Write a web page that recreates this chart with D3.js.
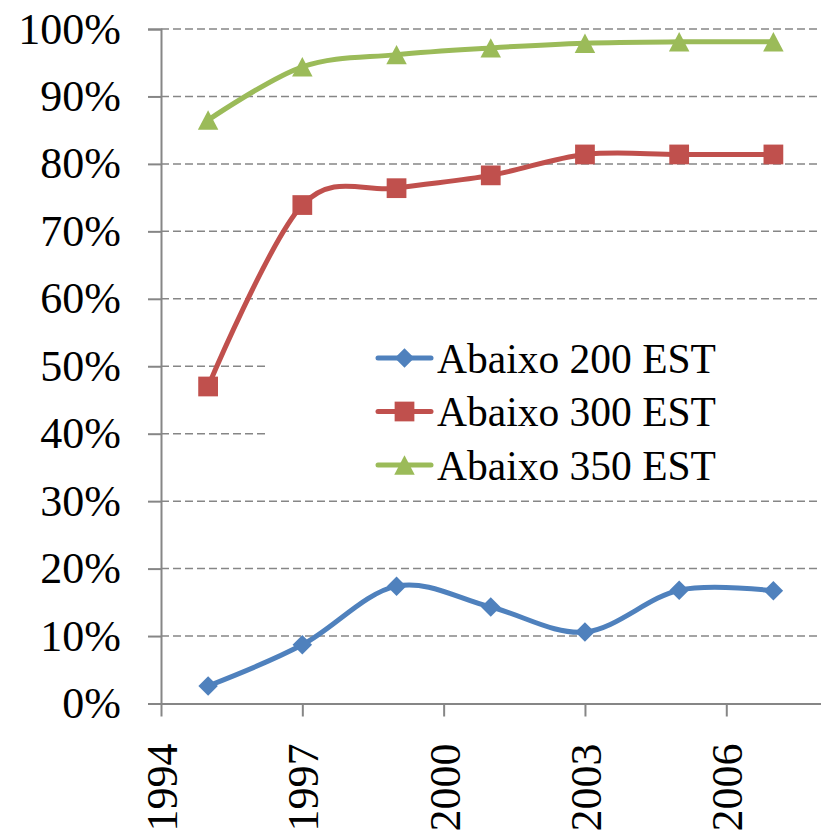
<!DOCTYPE html>
<html>
<head>
<meta charset="utf-8">
<script src="https://cdn.jsdelivr.net/npm/d3@7/dist/d3.min.js"></script>
<style>
  html, body { margin: 0; padding: 0; background: #fff; }
  svg { display: block; }
</style>
</head>
<body>
<svg id="chart" width="821" height="834"></svg>
<script>
// Share of records below each threshold, by year
const years = [1995, 1997, 1999, 2001, 2003, 2005, 2007];
const below200 = [0.026, 0.087, 0.174, 0.143, 0.106, 0.168, 0.167];
const below300 = [0.470, 0.739, 0.764, 0.783, 0.814, 0.814, 0.814];
const below350 = [0.865, 0.944, 0.962, 0.972, 0.979, 0.981, 0.981];

const seriesNames = ["Abaixo 200 EST", "Abaixo 300 EST", "Abaixo 350 EST"];
const seriesColors = ["#4F81BD", "#C0504D", "#9BBB59"];
const seriesMarkers = ["diamond", "square", "triangle"];

const xTicks = [1994, 1997, 2000, 2003, 2006];
const yTicks = [0, 0.1, 0.2, 0.3, 0.4, 0.5, 0.6, 0.7, 0.8, 0.9, 1.0];

const FONT = "'Liberation Serif', 'Times New Roman', serif";

const series = [below200, below300, below350].map((vals, i) => ({
  name: seriesNames[i],
  color: seriesColors[i],
  marker: seriesMarkers[i],
  points: years.map((yr, j) => ({ year: yr, value: vals[j] }))
}));

const svg = d3.select("#chart");
const plot = { left: 161, right: 820.5, top: 29, bottom: 703.5 };

const x = d3.scaleLinear().domain([1994, 2008]).range([plot.left, plot.right]);
const y = d3.scaleLinear().domain([0, 1]).range([plot.bottom, plot.top]);

const axisColor = "#868686";

// Dashed horizontal gridlines
svg.append("g")
  .selectAll("line")
  .data(yTicks.filter(d => d > 0))
  .join("line")
  .attr("x1", plot.left).attr("x2", plot.right)
  .attr("y1", d => y(d)).attr("y2", d => y(d))
  .attr("stroke", axisColor)
  .attr("stroke-width", 1.5)
  .attr("stroke-dasharray", "8,4");

// Y axis
const yAxis = svg.append("g")
  .attr("transform", `translate(${plot.left},0)`)
  .call(d3.axisLeft(y).tickValues(yTicks).tickFormat(d3.format(".0%")).tickSize(13).tickPadding(27));
yAxis.attr("font-family", null);
yAxis.select(".domain").attr("stroke", axisColor).attr("stroke-width", 2);
yAxis.selectAll(".tick line").attr("stroke", axisColor).attr("stroke-width", 2);
yAxis.selectAll(".tick text")
  .style("font-family", FONT)
  .style("font-size", "44px")
  .attr("fill", "#000");

// X axis
const xAxis = svg.append("g")
  .attr("transform", `translate(0,${plot.bottom})`)
  .call(d3.axisBottom(x).tickValues(xTicks).tickFormat(d3.format("d")).tickSize(13).tickSizeOuter(0));
xAxis.attr("font-family", null);
xAxis.select(".domain").attr("stroke", axisColor).attr("stroke-width", 2);
xAxis.selectAll(".tick line").attr("stroke", axisColor).attr("stroke-width", 2);
xAxis.selectAll(".tick text")
  .style("font-family", FONT)
  .style("font-size", "44px")
  .attr("fill", "#000")
  .attr("text-anchor", "end")
  .attr("transform", "rotate(-90)")
  .attr("x", -40)
  .attr("y", 0)
  .attr("dy", "0.35em");

// Legend panel sits above the gridlines
const legend = { x: 268, y: 306, rowStart: 358, rowGap: 53.5 };
svg.append("rect")
  .attr("x", legend.x).attr("y", legend.y)
  .attr("width", 821 - legend.x).attr("height", 188)
  .attr("fill", "#fff");

// Marker shapes, centred on their bounding box
const diamondType = {
  draw(ctx, size) {
    const w = Math.sqrt(size) / 2;
    const h = w * 1.0;
    ctx.moveTo(0, -h); ctx.lineTo(w, 0); ctx.lineTo(0, h); ctx.lineTo(-w, 0); ctx.closePath();
  }
};
const triangleType = {
  draw(ctx, size) {
    const w = Math.sqrt(size) / 2;
    const h = w * 0.95;
    ctx.moveTo(0, -h); ctx.lineTo(w, h); ctx.lineTo(-w, h); ctx.closePath();
  }
};
const markerSymbol = {
  diamond: d3.symbol().type(diamondType).size(380),
  square: d3.symbol().type(d3.symbolSquare).size(390),
  triangle: d3.symbol().type(triangleType).size(420)
};

const line = d3.line()
  .x(d => x(d.year))
  .y(d => y(d.value))
  .curve(d3.curveCardinal.tension(0));

series.forEach(s => {
  const g = svg.append("g");
  g.append("path")
    .datum(s.points)
    .attr("d", line)
    .attr("fill", "none")
    .attr("stroke", s.color)
    .attr("stroke-width", 5)
    .attr("stroke-linecap", "round")
    .attr("stroke-linejoin", "round");
  g.selectAll("path.marker")
    .data(s.points)
    .join("path")
    .attr("class", "marker")
    .attr("d", markerSymbol[s.marker])
    .attr("transform", d => `translate(${x(d.year)},${y(d.value)})`)
    .attr("fill", s.color);
});

// Legend entries
series.forEach((s, i) => {
  const cy = legend.rowStart + i * legend.rowGap;
  const row = svg.append("g").attr("transform", `translate(0,${cy})`);
  row.append("line")
    .attr("x1", 378).attr("x2", 431)
    .attr("y1", 0).attr("y2", 0)
    .attr("stroke", s.color)
    .attr("stroke-width", 5)
    .attr("stroke-linecap", "round");
  row.append("path")
    .attr("d", markerSymbol[s.marker])
    .attr("transform", "translate(404.5,0)")
    .attr("fill", s.color);
  row.append("text")
    .attr("x", 437)
    .attr("y", 0)
    .attr("dy", "0.35em")
    .style("font-family", FONT)
    .style("font-size", "41.5px")
    .attr("fill", "#000")
    .text(s.name);
});
</script>
</body>
</html>
